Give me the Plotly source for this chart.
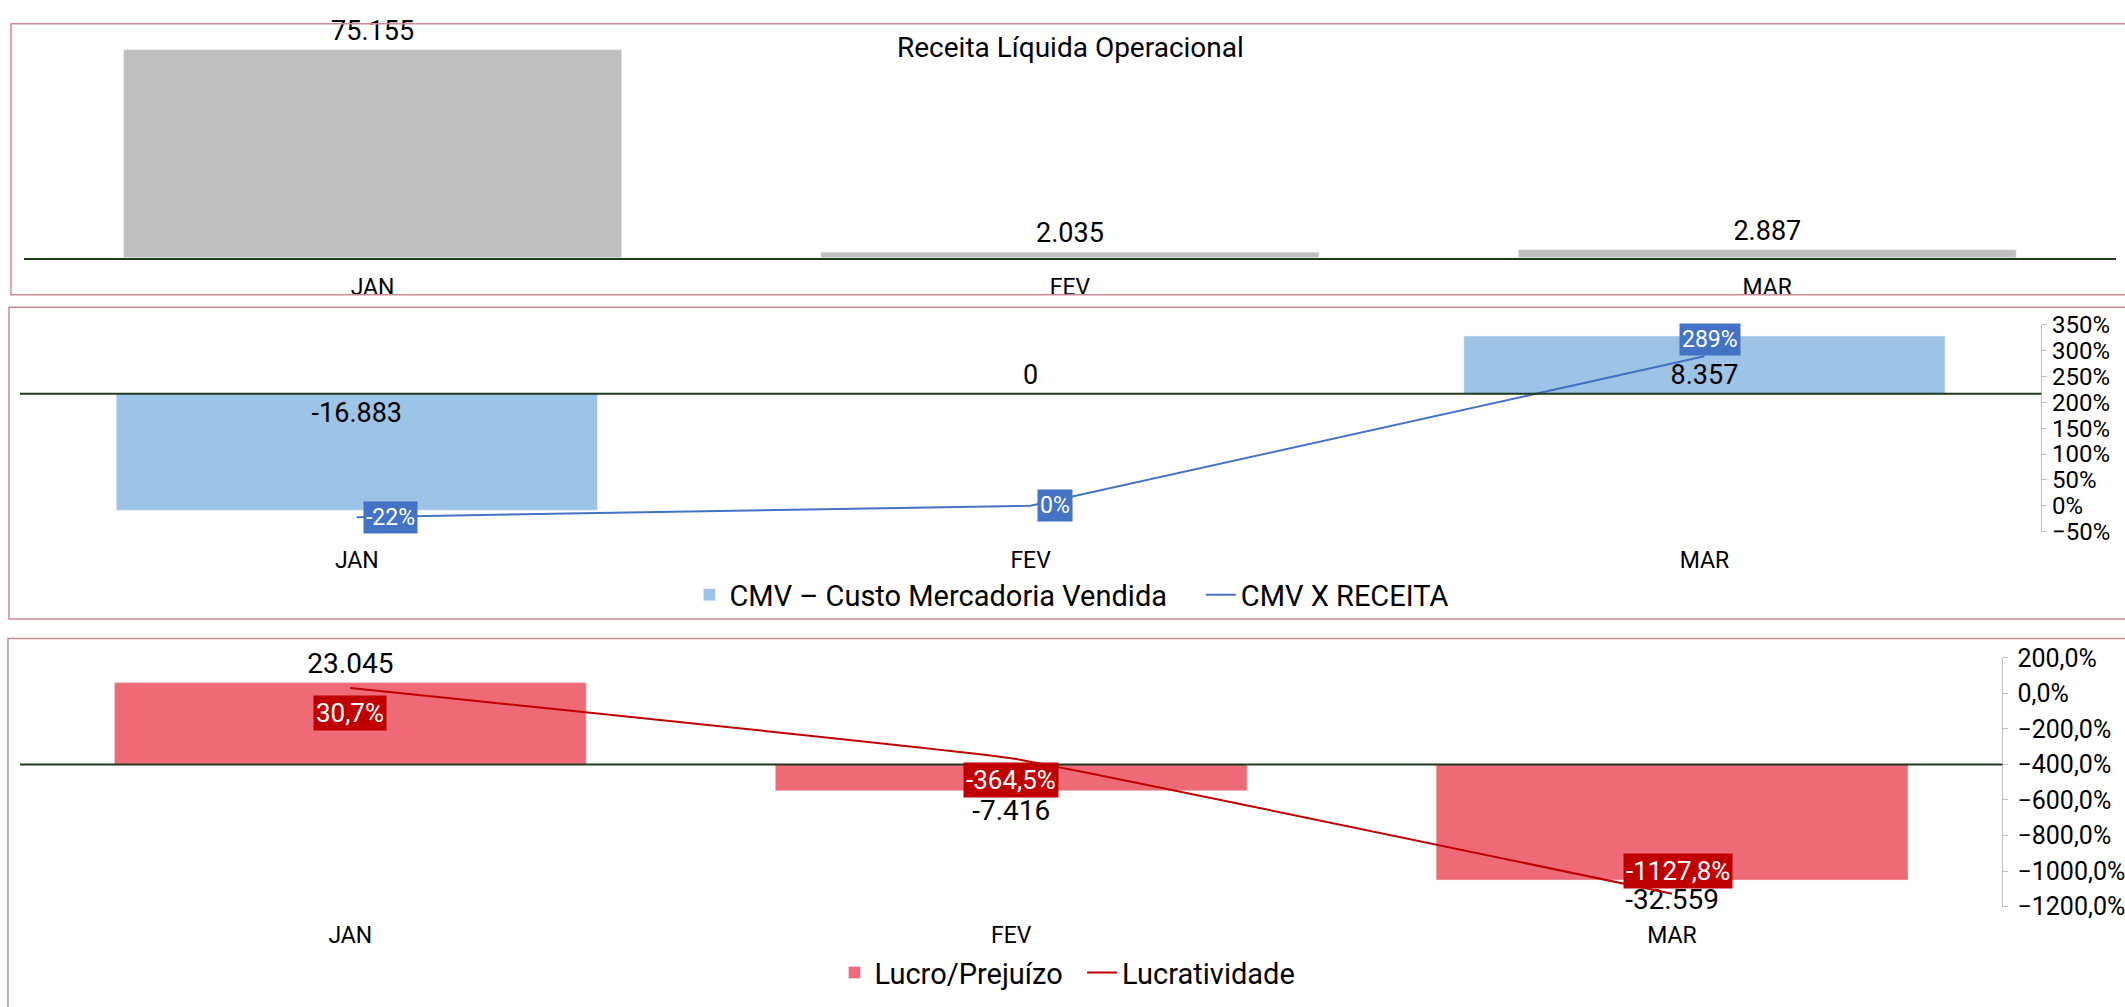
import plotly.graph_objects as go

# data
meses = ["JAN", "FEV", "MAR"]
receita = [75155, 2035, 2887]
cmv = [-16883, 0, 8357]
cmv_x_receita = [-0.22, 0.0, 2.89]
lucro = [23045, -7416, -32559]
lucratividade = [0.307, -3.645, -11.278]

FONT = "Roboto"
W, H = 2125, 1007
AXIS_GREEN = "#1F3A1C"
BORDER = "#CC8A94"
NBSP = "\u00a0"


def br_int(v):
    return f"{v:,.0f}".replace(",", ".")


def br_pct(v, dec=0):
    return f"{v * 100:.{dec}f}%".replace(".", ",")


def px_x(px):
    return px / W


def px_y(py):
    return 1 - py / H


fig = go.Figure()

# painel 1 - receita
fig.add_trace(go.Bar(
    x=meses, y=receita, xaxis="x", yaxis="y",
    marker_color="#BFBFBF", text=[br_int(v) for v in receita],
    textposition="outside", textangle=0, cliponaxis=False,
    textfont=dict(size=27, color="black", family=FONT),
    showlegend=False, hoverinfo="skip",
))

# painel 2 - CMV
fig.add_trace(go.Bar(
    x=meses, y=cmv, xaxis="x2", yaxis="y2", name="CMV – Custo Mercadoria Vendida" + NBSP * 4,
    marker_color="#9DC3E6", text=[br_int(v) for v in cmv],
    textposition=["inside" if v != 0 else "outside" for v in cmv],
    insidetextanchor="start", textangle=0, cliponaxis=False,
    insidetextfont=dict(size=27, color="black", family=FONT),
    outsidetextfont=dict(size=27, color="black", family=FONT),
    legend="legend2", hoverinfo="skip",
))
fig.add_trace(go.Scatter(
    x=meses, y=cmv_x_receita, xaxis="x2", yaxis="y3", name="CMV X RECEITA",
    mode="lines", line=dict(color="#4472C4", width=2), cliponaxis=False,
    legend="legend2", hoverinfo="skip",
))

# painel 3 - lucro
fig.add_trace(go.Bar(
    x=meses, y=lucro, xaxis="x3", yaxis="y4", name="Lucro/Prejuízo" + NBSP * 2,
    marker_color="#EE6A77", text=[br_int(v) for v in lucro],
    textposition="outside", textangle=0, cliponaxis=False,
    textfont=dict(size=28, color="black", family=FONT),
    legend="legend3", hoverinfo="skip",
))
fig.add_trace(go.Scatter(
    x=meses, y=lucratividade, xaxis="x3", yaxis="y5", name="Lucratividade",
    mode="lines", line=dict(color="#C00000", width=2, shape="spline", smoothing=0.2),
    cliponaxis=False, legend="legend3", hoverinfo="skip",
))

annotations = [dict(
    text="Receita Líquida Operacional", xref="paper", yref="paper",
    x=px_x(1075), y=px_y(35), xanchor="center", yanchor="middle", showarrow=False,
    font=dict(size=28, color="black", family=FONT),
)]

# rótulos das linhas (caixas)
pos2 = [dict(xanchor="left", yanchor="middle", xshift=6, yshift=0),
        dict(xanchor="left", yanchor="middle", xshift=6, yshift=0),
        dict(xanchor="center", yanchor="bottom", xshift=6, yshift=0)]
for m, v, p in zip(meses, cmv_x_receita, pos2):
    annotations.append(dict(
        text=br_pct(v), x=m, y=v, xref="x2", yref="y3", showarrow=False,
        bgcolor="#4472C4", borderpad=2, font=dict(size=23, color="white", family=FONT), **p,
    ))

pos3 = [dict(yanchor="top", yshift=-7), dict(yanchor="top", yshift=-4),
        dict(yanchor="bottom", yshift=5, xshift=6)]
for m, v, p in zip(meses, lucratividade, pos3):
    annotations.append(dict(
        text=br_pct(v, 1), x=m, y=v, xref="x3", yref="y5", showarrow=False,
        xanchor="center", bgcolor="#C00000", borderpad=2,
        font=dict(size=26, color="white", family=FONT), **p,
    ))

# molduras dos painéis e linhas de base
shapes = [
    dict(type="rect", xref="paper", yref="paper", x0=px_x(11), x1=1.01, y0=px_y(289), y1=px_y(10),
         line=dict(color=BORDER, width=1.5)),
    dict(type="rect", xref="paper", yref="paper", x0=px_x(9), x1=1.01, y0=px_y(623), y1=px_y(302),
         line=dict(color=BORDER, width=1.5)),
    dict(type="rect", xref="paper", yref="paper", x0=px_x(8), x1=1.01, y0=-0.02, y1=px_y(643),
         line=dict(color=BORDER, width=1.5)),
    dict(type="line", xref="x2 domain", yref="y2", x0=0, x1=1, y0=0, y1=0,
         line=dict(color=AXIS_GREEN, width=2)),
    dict(type="line", xref="x3 domain", yref="y4", x0=0, x1=1, y0=0, y1=0,
         line=dict(color=AXIS_GREEN, width=2)),
]

cat_axis = dict(showgrid=False, zeroline=False, ticks="outside", ticklen=8,
                tickcolor="rgba(0,0,0,0)", tickfont=dict(size=23, color="black", family=FONT),
                fixedrange=True)
hidden_y = dict(showgrid=False, showticklabels=False, ticks="", zeroline=False, fixedrange=True)
pct_axis = dict(showgrid=False, zeroline=False, showline=True, linecolor="#BFBFBF", linewidth=1,
                ticks="outside", ticklen=5, tickcolor="#BFBFBF",
                tickfont=dict(size=24, color="black", family=FONT), fixedrange=True)

legend_font = dict(size=29, color="black", family=FONT)

fig.update_layout(
    width=W, height=H,
    margin=dict(l=0, r=0, t=0, b=0),
    paper_bgcolor="white", plot_bgcolor="rgba(0,0,0,0)",
    separators=",.",
    font=dict(family=FONT, color="black"),
    bargap=0.286,
    xaxis=dict(cat_axis, domain=[px_x(24), 1], anchor="y", showline=True,
               linecolor=AXIS_GREEN, linewidth=2),
    yaxis=dict(showgrid=False, showticklabels=False, zeroline=False, range=[0, 80000],
               domain=[px_y(251), px_y(23)], anchor="x", fixedrange=True),
    xaxis2=dict(cat_axis, domain=[px_x(20), px_x(2050)], anchor="y2"),
    yaxis2=dict(hidden_y, range=[-20000, 10000], domain=[px_y(533), px_y(320)], anchor="x2"),
    yaxis3=dict(pct_axis, range=[-0.5, 3.5], dtick=0.5, tickformat=".0%",
                overlaying="y2", side="right", anchor="x2"),
    xaxis3=dict(cat_axis, domain=[px_x(20), px_x(2011)], anchor="y4"),
    yaxis4=dict(hidden_y, range=[-40000, 30000], domain=[px_y(919), px_y(663)], anchor="x3"),
    yaxis5=dict(pct_axis, range=[-12, 2], dtick=2, tickformat=".1%", ticklabelstandoff=4,
                tickfont=dict(size=25, color="black", family=FONT),
                overlaying="y4", side="right", anchor="x3"),
    legend2=dict(orientation="h", x=px_x(1076), y=px_y(598), xanchor="center", yanchor="middle",
                 font=legend_font, bgcolor="rgba(0,0,0,0)"),
    legend3=dict(orientation="h", x=px_x(1072), y=px_y(987), xanchor="center", yanchor="middle",
                 font=legend_font, bgcolor="rgba(0,0,0,0)"),
    annotations=annotations,
    shapes=shapes,
)

fig.write_html("out.html", config={"displayModeBar": False},
               post_script="document.body.style.margin='0';")
